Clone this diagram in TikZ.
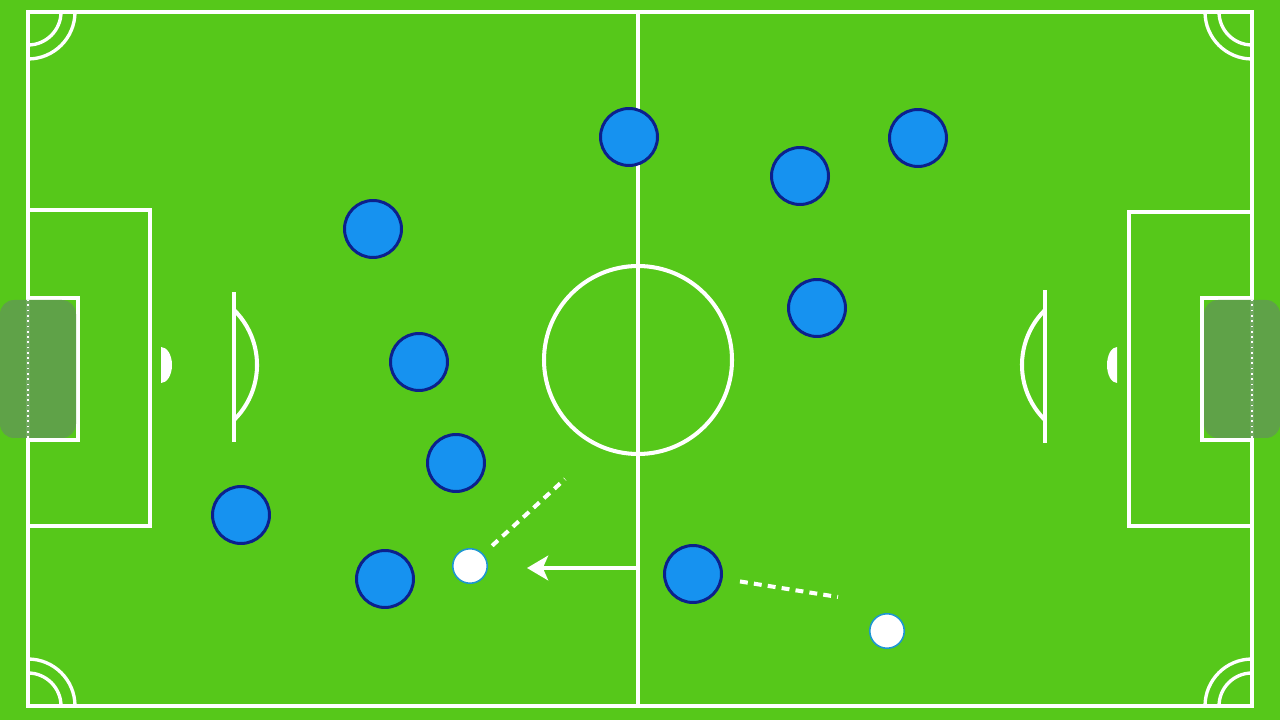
\documentclass[tikz,border=0pt]{standalone}
\usetikzlibrary{arrows.meta}
\definecolor{grass}{RGB}{86,200,26}
\definecolor{shirt}{RGB}{22,146,240}
\definecolor{navy}{RGB}{12,32,140}
\definecolor{ballrim}{RGB}{30,150,210}
\definecolor{goalshade}{RGB}{96,158,78}
\begin{document}
\begin{tikzpicture}[x=0.02cm,y=0.02cm,
  line/.style={white,line width=2.3pt},
  corner/.style={white,line width=1.9pt},
  player/.style={circle,draw=navy,fill=shirt,line width=1.7pt,minimum size=1.14cm,inner sep=0pt},
  ball/.style={circle,draw=ballrim,fill=white,line width=0.9pt,minimum size=0.69cm,inner sep=0pt},
  run/.style={white,line width=2.3pt,dash pattern=on 4.5pt off 3.5pt}]
  \useasboundingbox (0,0) rectangle (1280,720);
  \fill[grass] (0,0) rectangle (1280,720);
  % pitch
  \draw[line] (28,14) rectangle (1252,708);
  \draw[line] (638,14) -- (638,708);
  \draw[line] (638,360) circle (94);
  \draw[line] (28,194) rectangle (150,510);
  \draw[line] (1129,194) rectangle (1252,508);
  \draw[line] (28,280) rectangle (78,422);
  \draw[line] (1202,280) rectangle (1252,422);
  % goals
  \fill[goalshade,fill opacity=.9,rounded corners=8] (0,282) rectangle (76,420);
  \fill[goalshade,fill opacity=.9,rounded corners=8] (1204,282) rectangle (1280,420);
  \foreach \x in {28,1252}
    \draw[white,line width=.6pt,dash pattern=on 1pt off 2pt] (\x,282) -- (\x,420);
  % spots and arcs
  \fill[white] (161,373) arc[start angle=90,end angle=-90,x radius=11,y radius=18] -- cycle;
  \fill[white] (1117,373) arc[start angle=90,end angle=270,x radius=10,y radius=18] -- cycle;
  \draw[line] (234,278) -- (234,428);
  \draw[line] (234,300) arc[start angle=-45.4,end angle=45.4,radius=77.3];
  \draw[line] (1045,277) -- (1045,430);
  \draw[line] (1045,410) arc[start angle=134.6,end angle=225.4,radius=77.3];
  \foreach \r in {33,47} {
    \draw[corner] (28,14+\r) arc[start angle=90,end angle=0,radius=\r];
    \draw[corner] (28,708-\r) arc[start angle=-90,end angle=0,radius=\r];
    \draw[corner] (1252,708-\r) arc[start angle=270,end angle=180,radius=\r];
    \draw[corner] (1252,14+\r) arc[start angle=90,end angle=180,radius=\r];
  }
  % players
  \foreach \x/\y [count=\i] in {629/583,373/491,419/358,456/257,241/205,
                                385/141,693/146,800/544,918/582,817/412}
    \node[player] (p\i) at (\x,\y) {};
  \node[ball] (b1) at (470,154) {};
  \node[ball] (b2) at (887,89) {};
  % moves
  \coordinate (kick) at (638,152);
  \coordinate (tip) at (527,152);
  \draw[line,-{Stealth[length=12pt,width=14pt,inset=3pt]}] (kick) -- (tip);
  \coordinate (pass1) at (565,241);
  \draw[run,shorten <=6.8pt] (b1) -- (pass1);
  \coordinate (pass2) at (838,123);
  \draw[run,shorten <=10pt] (p7) -- (pass2);
\end{tikzpicture}
\end{document}
